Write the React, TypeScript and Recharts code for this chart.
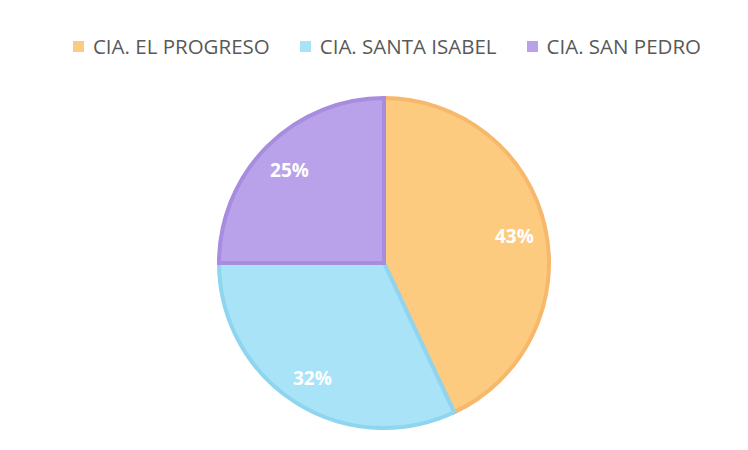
import React from "react";
import { PieChart, Pie, Cell, Legend } from "recharts";

const categories = ["CIA. EL PROGRESO", "CIA. SANTA ISABEL", "CIA. SAN PEDRO"];
const values = [43, 32, 25];
const fills = ["#FDCB80", "#A8E3F7", "#B9A2EA"];
const strokes = ["#F7B86C", "#8FD5F0", "#A88CE0"];

const data = categories.map((name, i) => ({ name, value: values[i] }));

const RAD = Math.PI / 180;

const renderLabel = (props: any) => {
  const { cx, cy, midAngle, outerRadius, percent } = props;
  const r = outerRadius * 0.81;
  const x = cx + r * Math.cos(-midAngle * RAD);
  const y = cy + r * Math.sin(-midAngle * RAD) + 2;
  return (
    <text
      x={x}
      y={y}
      fill="#FFFFFF"
      textAnchor="middle"
      dominantBaseline="central"
      fontFamily="Open Sans, Noto Sans, sans-serif"
      fontWeight={700}
      fontSize={19}
    >
      {`${Math.round(percent * 100)}%`}
    </text>
  );
};

const renderLegend = () => (
  <div
    style={{
      display: "flex",
      justifyContent: "center",
      gap: 30,
      fontFamily: "Open Sans, Noto Sans, sans-serif",
      fontSize: 20.5,
      color: "#595959",
      lineHeight: "24px",
    }}
  >
    {categories.map((c, i) => (
      <div key={c} style={{ display: "flex", alignItems: "center" }}>
        <span
          style={{
            display: "inline-block",
            width: 11,
            height: 11,
            background: fills[i],
            marginRight: 9,
          }}
        />
        <span>{c}</span>
      </div>
    ))}
  </div>
);

export default function App() {
  return (
    <div style={{ width: 748, height: 450, background: "#fff" }}>
      <PieChart width={732} height={434}>
        <Legend
          verticalAlign="top"
          align="center"
          content={renderLegend}
          wrapperStyle={{ top: 26, left: 13, width: 732 }}
        />
        <Pie
          data={data}
          dataKey="value"
          nameKey="name"
          cx={371}
          cy={226}
          outerRadius={165}
          startAngle={90}
          endAngle={-270}
          label={renderLabel}
          labelLine={false}
          isAnimationActive={false}
        >
          {data.map((d, i) => (
            <Cell key={d.name} fill={fills[i]} stroke={strokes[i]} strokeWidth={4} />
          ))}
        </Pie>
      </PieChart>
    </div>
  );
}
